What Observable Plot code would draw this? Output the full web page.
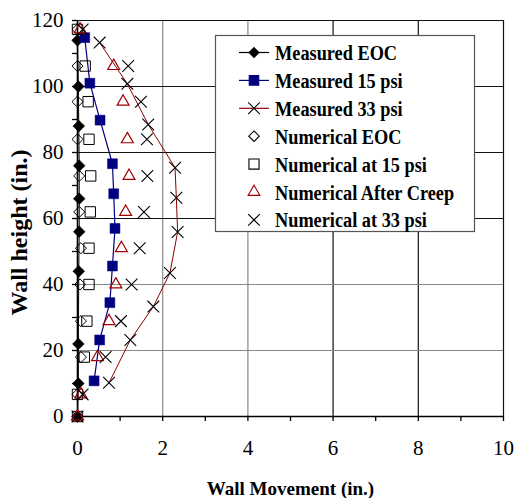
<!DOCTYPE html>
<html><head><meta charset="utf-8">
<script src="https://cdn.jsdelivr.net/npm/d3@7"></script>
<script src="https://cdn.jsdelivr.net/npm/@observablehq/plot@0.6"></script>
<style>body{margin:0;background:#fff}#chart{position:relative;width:514px;height:498px}</style>
</head><body><div id="chart"></div>
<script>
// ---- axes ----
const xTicks = [0,1,2,3,4,5,6,7,8,9,10];
const xLabeled = [0,2,4,6,8,10];
const yTicks = [0,10,20,30,40,50,60,70,80,90,100,110,120];
const yLabeled = [0,20,40,60,80,100,120];
const xTitle = "Wall Movement (in.)";
const yTitle = "Wall height (in.)";

// ---- series ----
const seriesNames = ["Measured EOC","Measured 15 psi","Measured 33 psi","Numerical EOC","Numerical at 15 psi","Numerical After Creep","Numerical at 33 psi"];

const measEOC_y = [114, 100, 88, 76, 66, 56, 44, 22, 10, 0];
const measEOC_x = [0, 0.02, 0.03, 0.04, 0.04, 0.04, 0.03, 0.02, 0.02, 0];

const meas15_y = [114.8, 101, 89.8, 76.6, 67.5, 57, 45.6, 34.5, 23.2, 10.8];
const meas15_x = [0.17, 0.29, 0.53, 0.82, 0.85, 0.88, 0.82, 0.76, 0.52, 0.39];

const meas33_y = [113.3, 100.8, 88.5, 75.4, 66.3, 55.9, 43.5, 33.3, 23.2, 10.2];
const meas33_x = [0.52, 1.17, 1.66, 2.29, 2.32, 2.35, 2.17, 1.78, 1.24, 0.74];

const num_y = [117.3, 106.2, 95.4, 84, 72.9, 62, 51, 40, 28.9, 18, 6.7, 0];
const numEOC_x   = [0, 0, 0, 0, 0.04, 0.04, 0.08, 0.06, 0.08, 0.08, 0, 0];
const num15_x    = [0, 0.18, 0.25, 0.27, 0.31, 0.30, 0.27, 0.27, 0.22, 0.16, 0, 0];
const numCreep_x = [0.06, 0.85, 1.07, 1.17, 1.21, 1.13, 1.03, 0.90, 0.74, 0.47, 0.08, 0];
const num33_x    = [0.12, 1.19, 1.49, 1.63, 1.64, 1.56, 1.46, 1.27, 1.02, 0.66, 0.12, 0];

const rows = (xs, ys) => xs.map((x, i) => ({x, y: ys[i]}));
const mEOC = rows(measEOC_x, measEOC_y);
const m15 = rows(meas15_x, meas15_y);
const m33 = rows(meas33_x, meas33_y);
const nEOC = rows(numEOC_x, num_y);
const n15 = rows(num15_x, num_y);
const nCr = rows(numCreep_x, num_y);
const n33 = rows(num33_x, num_y);

const NAVY = "#000080", DRED = "#8b0000", TRI = "#a00000";
const FONT = "'Liberation Serif','Times New Roman',Times,serif";

const chart = Plot.plot({
  width: 514, height: 498,
  marginLeft: 77, marginRight: 11, marginTop: 20, marginBottom: 82,
  style: {fontFamily: FONT, fontSize: "21px", background: "white", color: "black", overflow: "visible"},
  x: {domain: [0, 10]},
  y: {domain: [0, 120]},
  marks: [
    Plot.ruleX(xLabeled.filter(d => d > 0 && d < 6), {stroke: "#888", strokeWidth: 1.2}),
    Plot.ruleX(xLabeled.filter(d => d >= 6), {stroke: "#111", strokeWidth: 1.2}),
    Plot.ruleY(yLabeled.filter(d => d > 0 && d < 50), {stroke: "#888", strokeWidth: 1.2}),
    Plot.ruleY(yLabeled.filter(d => d >= 50), {stroke: "#111", strokeWidth: 1.2}),
    Plot.axisX(xTicks, {tickSize: 5, tickPadding: 19, strokeWidth: 1.3, fontSize: 21,
      tickFormat: d => xLabeled.includes(d) ? String(d) : "", label: null}),
    Plot.axisY(yTicks, {tickSize: 5, tickPadding: 9, strokeWidth: 1.3, fontSize: 21,
      tickFormat: d => yLabeled.includes(d) ? String(d) : "", label: null}),
    Plot.ruleY([0], {stroke: "black", strokeWidth: 1.6}),
    Plot.ruleX([0], {stroke: "black", strokeWidth: 1.6}),
    Plot.text([xTitle], {frameAnchor: "bottom", lineAnchor: "middle", dy: 72, fontWeight: "bold", fontSize: 19, text: d => d}),
    Plot.text([yTitle], {frameAnchor: "left", textAnchor: "middle", lineAnchor: "middle", dx: -58, dy: 14, rotate: -90, fontWeight: "bold", fontSize: 24, text: d => d}),
    // lines
    Plot.line(mEOC, {x: "x", y: "y", stroke: "black", strokeWidth: 1}),
    Plot.line(m15, {x: "x", y: "y", stroke: NAVY, strokeWidth: 1.2}),
    Plot.line(m33, {x: "x", y: "y", stroke: DRED, strokeWidth: 1}),
    // markers
    Plot.dot(mEOC, {x: "x", y: "y", symbol: "diamond2", r: 5.3, fill: "black", stroke: "black", strokeWidth: 0.5}),
    Plot.dot(m15, {x: "x", y: "y", symbol: "square", r: 5.6, fill: NAVY, stroke: NAVY, strokeWidth: 0.5}),
    Plot.dot(m33, {x: "x", y: "y", symbol: "times", r: 5.4, stroke: "black", strokeWidth: 1.1}),
    Plot.dot(nEOC, {x: "x", y: "y", symbol: "diamond2", r: 5.0, fill: "none", stroke: "black", strokeWidth: 1}),
    Plot.dot(n15, {x: "x", y: "y", symbol: "square2", r: 6.6, fill: "none", stroke: "black", strokeWidth: 1}),
    Plot.dot(nCr, {x: "x", y: "y", symbol: "triangle2", r: 5.7, fill: "none", stroke: TRI, strokeWidth: 1.2}),
    Plot.dot(n33, {x: "x", y: "y", symbol: "times", r: 5.4, stroke: "black", strokeWidth: 1.1})
  ]
});
document.getElementById("chart").appendChild(chart);

// ---- legend (overlay inside the plot area) ----
const legendItems = [
  {name: seriesNames[0], line: "black", sym: d3.symbolDiamond2, fill: "black", stroke: "black", size: 60},
  {name: seriesNames[1], line: NAVY, sym: d3.symbolSquare, fill: NAVY, stroke: NAVY, size: 90},
  {name: seriesNames[2], line: DRED, sym: d3.symbolTimes, fill: "none", stroke: "black", size: 90},
  {name: seriesNames[3], line: null, sym: d3.symbolDiamond2, fill: "none", stroke: "black", size: 70},
  {name: seriesNames[4], line: null, sym: d3.symbolSquare2, fill: "none", stroke: "black", size: 130},
  {name: seriesNames[5], line: null, sym: d3.symbolTriangle2, fill: "none", stroke: TRI, size: 100},
  {name: seriesNames[6], line: null, sym: d3.symbolTimes, fill: "none", stroke: "black", size: 90}
];
const svg = d3.select(chart);
const lg = svg.append("g").attr("class", "legend").attr("text-anchor", "start");
lg.append("rect").attr("x", 215.5).attr("y", 35.5).attr("width", 259).attr("height", 196)
  .attr("fill", "white").attr("stroke", "#555").attr("stroke-width", 1.2);
legendItems.forEach((it, i) => {
  const cy = 52.5 + i * 27.9;
  const g = lg.append("g");
  if (it.line) g.append("line").attr("x1", 239).attr("x2", 269).attr("y1", cy).attr("y2", cy)
    .attr("stroke", it.line).attr("stroke-width", 1.2);
  g.append("path").attr("d", d3.symbol(it.sym, it.size)()).attr("transform", `translate(254,${cy})`)
    .attr("fill", it.fill).attr("stroke", it.stroke).attr("stroke-width", 1.1);
  g.append("text").attr("transform", `translate(275,${cy}) scale(1,1.18)`).attr("dy", "0.35em").attr("text-anchor", "start")
    .attr("font-family", FONT).attr("font-weight", "bold").attr("font-size", 18.3)
    .attr("fill", "black").text(it.name);
});
</script></body></html>
